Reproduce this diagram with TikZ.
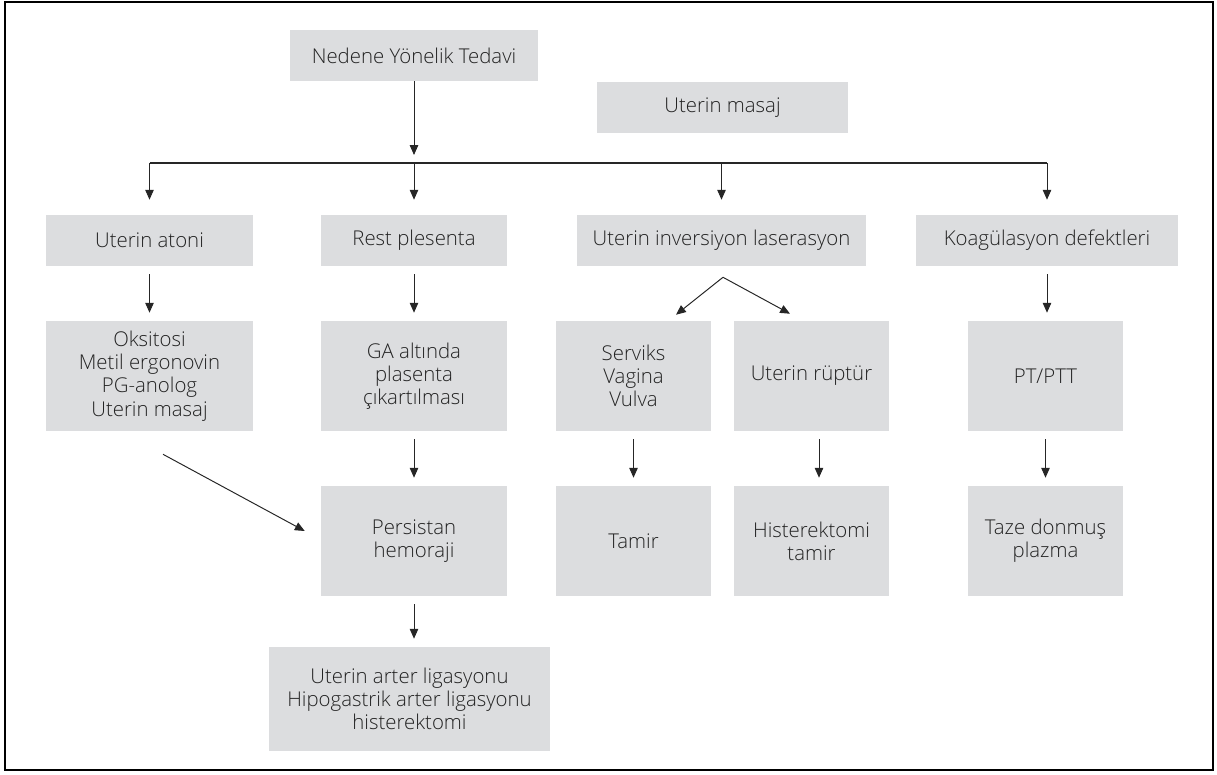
\documentclass[tikz,border=0pt]{standalone}
\usepackage{fontspec}
\setmainfont{Open Sans}[UprightFont={* Light}]
\usetikzlibrary{arrows.meta}
\definecolor{boxgray}{RGB}{220,221,223}
\definecolor{txtgray}{RGB}{35,35,35}
\newlength{\pu}
\setlength{\pu}{0.025cm}

\begin{document}
\begin{tikzpicture}[x=0.025cm,y=-0.025cm,
  box/.style={fill=boxgray,text=txtgray,align=center,inner sep=0pt,
    font=\fontsize{14.5}{16.5}\selectfont},
  small/.style={box,minimum width=#1\pu,minimum height=51\pu},
  tall/.style={box,minimum width=#1\pu,minimum height=110\pu},
  arr/.style={-{Triangle[length=7pt,width=6pt]},line width=0.7pt,black!85,
    shorten <=8\pu,shorten >=8\pu},
  free/.style={arr,shorten <=0pt,shorten >=0pt}]
\useasboundingbox (0,0) rectangle (1217,775);

% Frame
\draw[line width=1.3pt] (5,2) rectangle (1213,770);

% Top
\node[small=248] (nedene) at (414,55.5) {Nedene Yönelik Tedavi};
\node[small=251] (masaj) at (722.5,107.5) {Uterin masaj};

% Causes
\node[small=207] (atoni) at (149.5,240.5) {Uterin atoni};
\node[small=186] (rest) at (414,240.5) {Rest plesenta};
\node[small=289] (inv) at (721.5,240.5) {Uterin inversiyon laserasyon};
\node[small=262] (koag) at (1047,240.5) {Koagülasyon defektleri};

% Second row
\node[tall=207] (oks) at (149.5,376) {Oksitosi\\Metil ergonovin\\PG-anolog\\Uterin masaj};
\node[tall=186] (ga) at (414,376) {GA altında\\plasenta\\çıkartılması};
\node[tall=155] (serv) at (633.5,376) {Serviks\\Vagina\\Vulva};
\node[tall=155] (rupt) at (811.5,376) {Uterin rüptür};
\node[tall=155] (pt) at (1045.5,376) {PT/PTT};

% Third row
\node[tall=186] (pers) at (414,541) {Persistan\\hemoraji};
\node[tall=155] (tamir) at (633.5,541) {Tamir};
\node[tall=155] (hist) at (811.5,541) {Histerektomi\\tamir};
\node[tall=155] (taze) at (1045.5,541) {Taze donmuş\\plazma};

% Last
\node[box,minimum width=281\pu,minimum height=104\pu] (son) at (409.5,699)
  {Uterin arter ligasyonu\\Hipogastrik arter ligasyonu\\histerektomi};

% Bus
\coordinate (bus) at (414,163);
\draw[arr,shorten <=0pt] (nedene) -- (bus);
\draw[line width=0.9pt,black!85] (atoni.north |- bus) -- (koag.north |- bus);
\foreach \n in {atoni,rest,inv,koag}
  \draw[arr,shorten <=0pt,shorten >=15\pu] (\n.north |- bus) -- (\n.north);

% Down arrows
\foreach \a/\b in {atoni/oks,rest/ga,koag/pt,ga/pers,serv/tamir,pt/taze,pers/son}
  \draw[arr] (\a.south) -- (\a.south |- \b.north);
\draw[arr] ([xshift=7.5\pu]rupt.south) -- ([xshift=7.5\pu]hist.north);

% Diagonals
\draw[free] ([shift={(1.5,11)}]inv.south) -- ([shift={(42.5,-6)}]serv.north);
\draw[free] ([shift={(1.5,11)}]inv.south) -- ([shift={(-21.5,-7)}]rupt.north);
\draw[free] ([shift={(13.5,23)}]oks.south) -- ([shift={(-16,-10)}]pers.west);
\end{tikzpicture}
\end{document}
